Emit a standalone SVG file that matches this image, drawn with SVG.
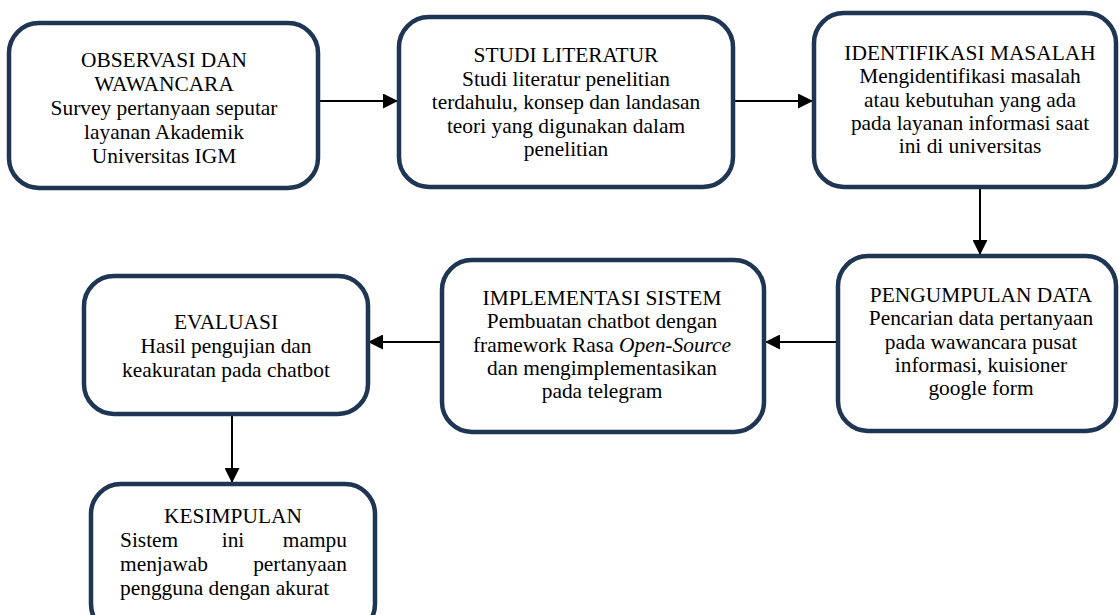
<svg xmlns="http://www.w3.org/2000/svg" width="1119" height="615" viewBox="0 0 1119 615">
<style>
.box{fill:#fff;stroke:#1e3654;stroke-width:4.5}
.t{font-family:"Liberation Serif","Times New Roman",serif;font-size:21.4px;fill:#000;text-anchor:middle}
.l{font-family:"Liberation Serif","Times New Roman",serif;font-size:21.4px;fill:#000}
.c{stroke:#000;stroke-width:2;fill:none}
</style>
<defs>
<marker id="ah" viewBox="0 0 10 10" refX="10" refY="5" markerWidth="15" markerHeight="15" markerUnits="userSpaceOnUse" orient="auto">
<path d="M0,0 L10,5 L0,10 Z" fill="#000"/>
</marker>
</defs>
<rect width="1119" height="615" fill="#fff"/>
<g id="connectors">
<line class="c" x1="318" y1="101" x2="398" y2="101" marker-end="url(#ah)"/>
<line class="c" x1="733" y1="101" x2="813" y2="101" marker-end="url(#ah)"/>
<line class="c" x1="980" y1="187" x2="980" y2="255" marker-end="url(#ah)"/>
<line class="c" x1="838" y1="342" x2="765" y2="342" marker-end="url(#ah)"/>
<line class="c" x1="441" y1="342" x2="368" y2="342" marker-end="url(#ah)"/>
<line class="c" x1="232" y1="414" x2="232" y2="483" marker-end="url(#ah)"/>
</g>
<g id="observasi">
<rect class="box" x="9" y="23" width="309" height="165" rx="30"/>
<text class="t" x="164" y="67">OBSERVASI DAN</text>
<text class="t" x="164" y="91">WAWANCARA</text>
<text class="t" x="164" y="115">Survey pertanyaan seputar</text>
<text class="t" x="164" y="139">layanan Akademik</text>
<text class="t" x="164" y="163">Universitas IGM</text>
</g>
<g id="studi">
<rect class="box" x="399" y="17" width="334" height="170" rx="30"/>
<text class="t" x="566" y="62">STUDI LITERATUR</text>
<text class="t" x="566" y="85.5">Studi literatur penelitian</text>
<text class="t" x="566" y="109">terdahulu, konsep dan landasan</text>
<text class="t" x="566" y="132.5">teori yang digunakan dalam</text>
<text class="t" x="566" y="156">penelitian</text>
</g>
<g id="identifikasi">
<rect class="box" x="814" y="13" width="302" height="174" rx="30"/>
<text class="t" x="970" y="60">IDENTIFIKASI MASALAH</text>
<text class="t" x="970" y="83.3">Mengidentifikasi masalah</text>
<text class="t" x="970" y="106.6">atau kebutuhan yang ada</text>
<text class="t" x="970" y="129.9">pada layanan informasi saat</text>
<text class="t" x="970" y="153.2">ini di universitas</text>
</g>
<g id="pengumpulan">
<rect class="box" x="838" y="256" width="278" height="175" rx="30"/>
<text class="t" x="981" y="302">PENGUMPULAN DATA</text>
<text class="t" x="981" y="325.3">Pencarian data pertanyaan</text>
<text class="t" x="981" y="348.6">pada wawancara pusat</text>
<text class="t" x="981" y="371.9">informasi, kuisioner</text>
<text class="t" x="981" y="395.2">google form</text>
</g>
<g id="implementasi">
<rect class="box" x="442" y="260" width="322" height="172" rx="30"/>
<text class="t" x="602" y="305">IMPLEMENTASI SISTEM</text>
<text class="t" x="602" y="328.3">Pembuatan chatbot dengan</text>
<text class="t" x="602" y="351.6">framework Rasa <tspan font-style="italic">Open-Source</tspan></text>
<text class="t" x="602" y="374.9">dan mengimplementasikan</text>
<text class="t" x="602" y="398.2">pada telegram</text>
</g>
<g id="evaluasi">
<rect class="box" x="84" y="276" width="284" height="138" rx="30"/>
<text class="t" x="226" y="329">EVALUASI</text>
<text class="t" x="226" y="353">Hasil pengujian dan</text>
<text class="t" x="226" y="377">keakuratan pada chatbot</text>
</g>
<g id="kesimpulan">
<rect class="box" x="91" y="484" width="284" height="150" rx="30"/>
<text class="t" x="233" y="523">KESIMPULAN</text>
<text class="l" x="120" y="547">Sistem</text>
<text class="t" x="233" y="547">ini</text>
<text class="l" x="347" y="547" text-anchor="end">mampu</text>
<text class="l" x="120" y="571">menjawab</text>
<text class="l" x="347" y="571" text-anchor="end">pertanyaan</text>
<text class="l" x="120" y="595">pengguna dengan akurat</text>
</g>
</svg>
